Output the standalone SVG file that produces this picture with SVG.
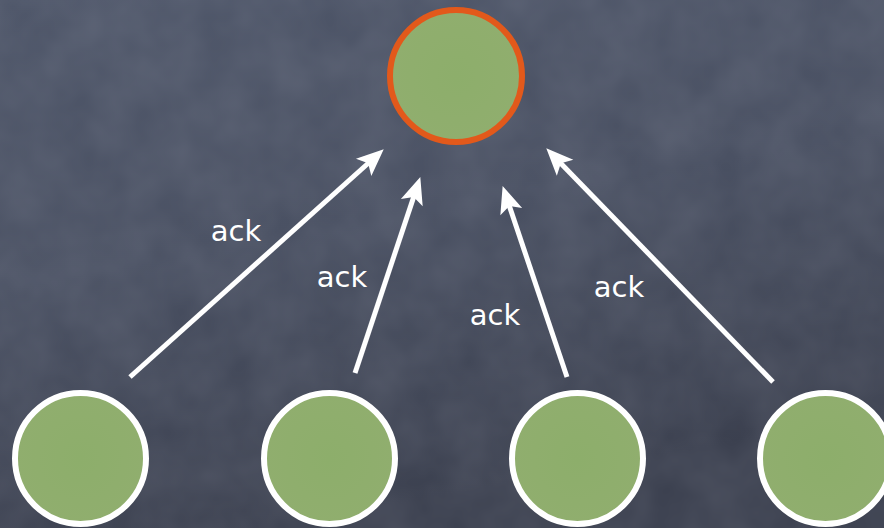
<svg xmlns="http://www.w3.org/2000/svg" width="884" height="528" viewBox="0 0 884 528">
  <defs>
    <linearGradient id="bg" x1="0" y1="0" x2="0.3" y2="1">
      <stop offset="0" stop-color="#4c5467"/>
      <stop offset="0.5" stop-color="#474e60"/>
      <stop offset="1" stop-color="#383d4c"/>
    </linearGradient>
    <radialGradient id="green" cx="0.5" cy="0.5" r="0.5">
      <stop offset="0" stop-color="#8dae6b"/>
      <stop offset="1" stop-color="#90ae6e"/>
    </radialGradient>
    <filter id="grain" x="0" y="0" width="100%" height="100%">
      <feTurbulence type="fractalNoise" baseFrequency="0.02" numOctaves="3" seed="4"/>
      <feColorMatrix type="matrix" values="0 0 0 0 0.6  0 0 0 0 0.62  0 0 0 0 0.7  0 0 0 0.14 0"/>
    </filter>
    <marker id="arrow" markerUnits="userSpaceOnUse" markerWidth="40" markerHeight="30" viewBox="-20 -15 40 30" refX="0" refY="0" orient="auto">
      <path d="M19,0 L-8,-11.5 L-2,0 L-8,11.5 Z" fill="#ffffff"/>
    </marker>
    <style>
      .node-leaf { fill: url(#green); stroke: #ffffff; stroke-width: 6; }
      .node-root { fill: url(#green); stroke: #e2591b; stroke-width: 6; }
      .edge { stroke: #ffffff; stroke-width: 5; fill: none; marker-end: url(#arrow); }
      .lbl { font-family: "DejaVu Sans", "Liberation Sans", sans-serif; font-size: 29px; fill: #ffffff; text-anchor: middle; }
    </style>
  </defs>

  <rect width="884" height="528" fill="url(#bg)"/>
  <rect width="884" height="528" filter="url(#grain)"/>

  <g id="connectors">
    <line class="edge" x1="130" y1="377" x2="369.6" y2="162"/>
    <line class="edge" x1="355" y1="373" x2="414.3" y2="195.1"/>
    <line class="edge" x1="567" y1="377" x2="508.7" y2="204.1"/>
    <line class="edge" x1="773" y1="382" x2="559.5" y2="161.9"/>
    <text class="lbl" x="236" y="241">ack</text>
    <text class="lbl" x="342" y="287">ack</text>
    <text class="lbl" x="495" y="325">ack</text>
    <text class="lbl" x="619" y="297">ack</text>
  </g>

  <g id="root">
    <circle class="node-root" cx="456" cy="76" r="66"/>
  </g>
  <g id="leaf1">
    <circle class="node-leaf" cx="80.5" cy="458.5" r="65.5"/>
  </g>
  <g id="leaf2">
    <circle class="node-leaf" cx="329.5" cy="458.5" r="65.5"/>
  </g>
  <g id="leaf3">
    <circle class="node-leaf" cx="577.5" cy="458.5" r="65.5"/>
  </g>
  <g id="leaf4">
    <circle class="node-leaf" cx="825.5" cy="458.5" r="65.5"/>
  </g>
</svg>
